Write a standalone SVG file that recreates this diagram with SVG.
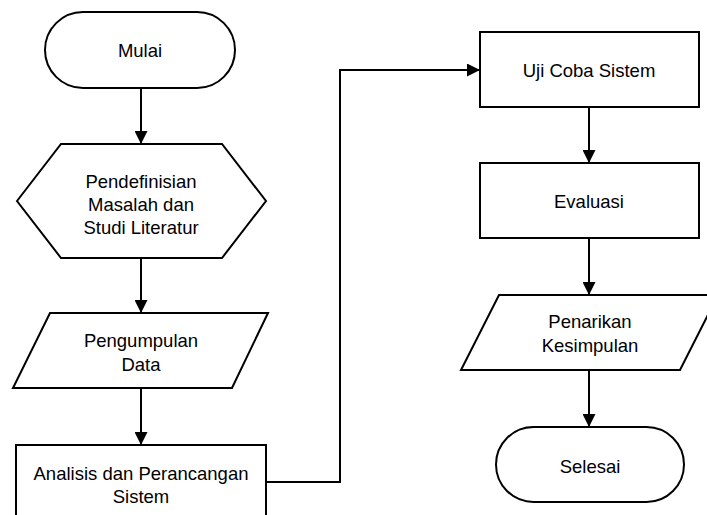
<svg xmlns="http://www.w3.org/2000/svg" width="707" height="515" viewBox="0 0 707 515">
<style>
.s{fill:#fff;stroke:#000;stroke-width:2}
.t{font-family:"Liberation Sans",Arial,sans-serif;font-size:18.5px;fill:#000;text-anchor:middle}
.c{fill:none;stroke:#000;stroke-width:2}
</style>
<defs>
<marker id="ah" markerWidth="13" markerHeight="13" refX="13" refY="6.5" orient="auto" markerUnits="userSpaceOnUse">
<path d="M0,0 L13,6.5 L0,13 Z" fill="#000"/>
</marker>
</defs>
<rect width="707" height="515" fill="#fff"/>
<g id="connectors">
<line class="c" x1="141" y1="88" x2="141" y2="144" marker-end="url(#ah)"/>
<line class="c" x1="141" y1="258" x2="141" y2="313" marker-end="url(#ah)"/>
<line class="c" x1="141" y1="388" x2="141" y2="445" marker-end="url(#ah)"/>
<polyline class="c" points="266,482 340,482 340,70 480,70" marker-end="url(#ah)"/>
<line class="c" x1="589" y1="107" x2="589" y2="163" marker-end="url(#ah)"/>
<line class="c" x1="589" y1="238" x2="589" y2="295" marker-end="url(#ah)"/>
<line class="c" x1="589" y1="370" x2="589" y2="427" marker-end="url(#ah)"/>
</g>
<g id="mulai">
<rect class="s" x="45" y="12" width="190" height="76" rx="38" ry="38"/>
<text class="t" x="140" y="57">Mulai</text>
</g>
<g id="pendefinisian">
<polygon class="s" points="17,201 61,144 222,144 266,201 222,258 61,258"/>
<text class="t" x="141" y="188">Pendefinisian</text>
<text class="t" x="141" y="211">Masalah dan</text>
<text class="t" x="141" y="234">Studi Literatur</text>
</g>
<g id="pengumpulan">
<polygon class="s" points="50,313 268,313 232,388 13,388"/>
<text class="t" x="141" y="347">Pengumpulan</text>
<text class="t" x="141" y="371">Data</text>
</g>
<g id="analisis">
<rect class="s" x="16" y="445" width="250" height="80"/>
<text class="t" x="141" y="480">Analisis dan Perancangan</text>
<text class="t" x="141" y="503">Sistem</text>
</g>
<g id="ujicoba">
<rect class="s" x="480" y="32" width="219" height="75"/>
<text class="t" x="589" y="77">Uji Coba Sistem</text>
</g>
<g id="evaluasi">
<rect class="s" x="480" y="163" width="219" height="75"/>
<text class="t" x="589" y="208">Evaluasi</text>
</g>
<g id="penarikan">
<polygon class="s" points="499,295 718,295 680,370 461,370"/>
<text class="t" x="590" y="328">Penarikan</text>
<text class="t" x="590" y="352">Kesimpulan</text>
</g>
<g id="selesai">
<rect class="s" x="496" y="427" width="188" height="75" rx="37.5" ry="37.5"/>
<text class="t" x="590" y="473">Selesai</text>
</g>
</svg>
